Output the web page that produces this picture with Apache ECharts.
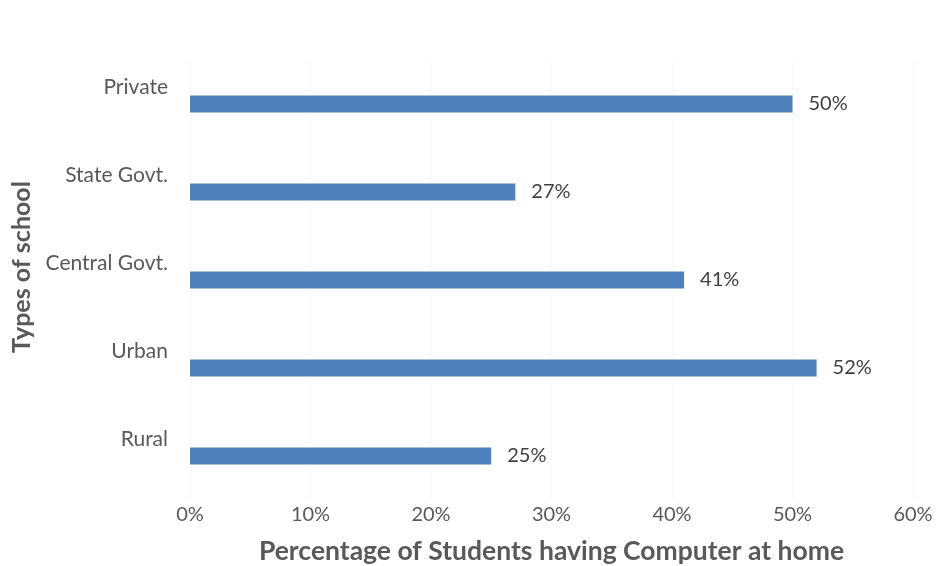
<!DOCTYPE html>
<html>
<head>
<meta charset="utf-8">
<style>
  html, body { margin: 0; padding: 0; background: #ffffff; }
  #chart { width: 939px; height: 566px; }
</style>
<script src="https://cdn.jsdelivr.net/npm/echarts@6/dist/echarts.min.js"></script>
</head>
<body>
<div id="chart"></div>
<script>
// School types, listed top to bottom
const schoolTypes = ['Private', 'State Govt.', 'Central Govt.', 'Urban', 'Rural'];
// Share of students with a computer at home (%)
const computerShare = [50, 27, 41, 52, 25];
// Value axis range (%)
const axisMin = 0;
const axisMax = 60;
const axisStep = 10;

const FONT = 'Lato, "Open Sans", sans-serif';

const chart = echarts.init(document.getElementById('chart'), null, { renderer: 'canvas' });

chart.setOption({
  animation: false,
  backgroundColor: '#ffffff',
  textStyle: { fontFamily: FONT },
  grid: { left: 190, right: 26, top: 60, bottom: 66, containLabel: false, outerBoundsMode: 'none' },
  xAxis: {
    type: 'value',
    min: axisMin,
    max: axisMax,
    interval: axisStep,
    name: 'Percentage of Students having Computer at home',
    nameLocation: 'middle',
    nameGap: 38,
    nameTextStyle: { fontFamily: FONT, fontSize: 26.5, fontWeight: 'bold', color: '#595959' },
    axisLine: { show: false },
    axisTick: { show: false },
    axisLabel: { formatter: '{value}%', fontFamily: FONT, fontSize: 20, color: '#595959', margin: 5 },
    splitLine: { show: true, lineStyle: { color: '#f0f0f0', type: 'dotted', width: 1 } }
  },
  yAxis: {
    type: 'category',
    data: schoolTypes,
    inverse: true,
    name: 'Types of school',
    nameLocation: 'middle',
    nameGap: 153,
    nameRotate: 90,
    nameTextStyle: { fontFamily: FONT, fontSize: 25, fontWeight: 'bold', color: '#595959', padding: [0, 0, 0, 26] },
    axisLine: { show: false },
    axisTick: { show: false },
    axisLabel: {
      fontFamily: FONT, fontSize: 21, color: '#595959', margin: 22,
      lineHeight: 34,
      // an empty second line lifts the name above its bar
      formatter: (v) => v + '\n '
    },
    splitLine: { show: false }
  },
  series: [{
    type: 'bar',
    data: computerShare,
    barWidth: 17,
    itemStyle: { color: '#4f81bd' },
    label: {
      show: true,
      position: 'right',
      distance: 16,
      formatter: '{c}%',
      fontFamily: FONT,
      fontSize: 20,
      color: '#404040'
    }
  }]
});
</script>
</body>
</html>
